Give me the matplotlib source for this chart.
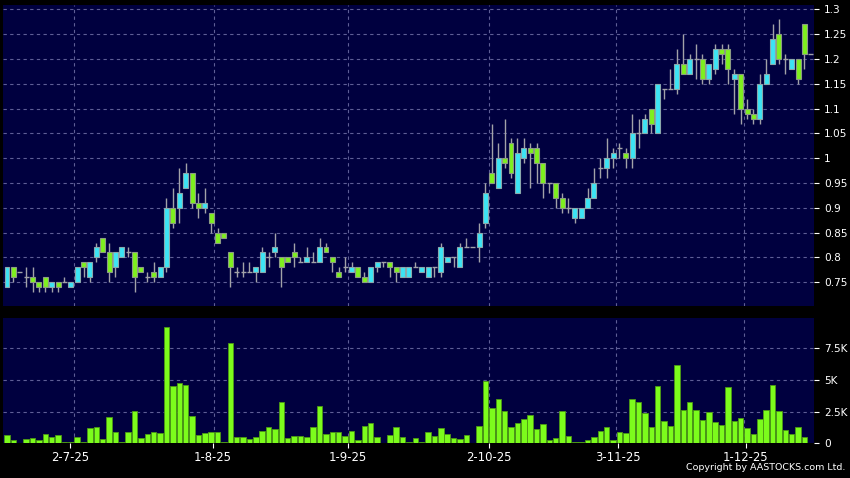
import numpy as np
import matplotlib
matplotlib.use("Agg")
import matplotlib.pyplot as plt

# daily OHLC (oldest first)
opens = [0.74, 0.78, 0.77, 0.76, 0.76, 0.75, 0.76, 0.74, 0.75, 0.75,
         0.74, 0.75, 0.79, 0.76, 0.80, 0.84, 0.81, 0.78, 0.80, 0.81,
         0.81, 0.78, 0.76, 0.77, 0.76, 0.78, 0.90, 0.90, 0.94, 0.97,
         0.91, 0.90, 0.89, 0.85, 0.85, 0.81, 0.77, 0.77, 0.77, 0.77,
         0.77, 0.80, 0.81, 0.80, 0.80, 0.81, 0.79, 0.79, 0.79, 0.79,
         0.82, 0.80, 0.77, 0.78, 0.77, 0.78, 0.76, 0.75, 0.78, 0.79,
         0.79, 0.78, 0.76, 0.76, 0.78, 0.77, 0.76, 0.78, 0.77, 0.79,
         0.80, 0.78, 0.82, 0.82, 0.82, 0.87, 0.97, 0.94, 1.00, 1.03,
         0.93, 1.00, 1.02, 1.02, 0.99, 0.95, 0.95, 0.92, 0.90, 0.88,
         0.88, 0.90, 0.92, 0.98, 0.98, 1.00, 1.02, 1.01, 1.00, 1.05,
         1.05, 1.10, 1.05, 1.14, 1.14, 1.14, 1.19, 1.17, 1.20, 1.20,
         1.16, 1.18, 1.22, 1.22, 1.16, 1.17, 1.10, 1.09, 1.08, 1.15,
         1.19, 1.25, 1.20, 1.18, 1.20, 1.27, 1.21]
highs = [0.78, 0.78, 0.77, 0.78, 0.78, 0.75, 0.76, 0.75, 0.75, 0.76,
         0.75, 0.78, 0.79, 0.79, 0.83, 0.84, 0.83, 0.81, 0.82, 0.82,
         0.81, 0.78, 0.77, 0.79, 0.78, 0.92, 0.94, 0.98, 0.99, 0.97,
         0.93, 0.94, 0.89, 0.86, 0.85, 0.81, 0.78, 0.79, 0.79, 0.78,
         0.82, 0.81, 0.85, 0.80, 0.80, 0.83, 0.80, 0.82, 0.81, 0.84,
         0.83, 0.80, 0.78, 0.80, 0.79, 0.78, 0.77, 0.78, 0.79, 0.79,
         0.79, 0.78, 0.78, 0.78, 0.79, 0.78, 0.78, 0.78, 0.83, 0.80,
         0.80, 0.83, 0.84, 0.82, 0.87, 0.95, 1.07, 1.03, 1.08, 1.04,
         1.04, 1.04, 1.03, 1.03, 0.99, 0.95, 0.95, 0.93, 0.92, 0.90,
         0.90, 0.94, 0.98, 1.00, 1.04, 1.02, 1.03, 1.02, 1.09, 1.08,
         1.09, 1.10, 1.15, 1.14, 1.18, 1.22, 1.25, 1.21, 1.23, 1.21,
         1.19, 1.23, 1.23, 1.23, 1.18, 1.17, 1.12, 1.10, 1.17, 1.20,
         1.27, 1.28, 1.21, 1.20, 1.20, 1.27, 1.21]
lows = [0.74, 0.75, 0.77, 0.74, 0.73, 0.73, 0.73, 0.73, 0.73, 0.75,
        0.74, 0.75, 0.76, 0.75, 0.79, 0.81, 0.75, 0.76, 0.80, 0.80,
        0.73, 0.77, 0.75, 0.75, 0.76, 0.77, 0.86, 0.87, 0.94, 0.90,
        0.88, 0.89, 0.85, 0.83, 0.84, 0.74, 0.76, 0.76, 0.77, 0.75,
        0.77, 0.78, 0.80, 0.74, 0.79, 0.78, 0.79, 0.79, 0.79, 0.79,
        0.81, 0.77, 0.76, 0.77, 0.77, 0.76, 0.75, 0.75, 0.77, 0.78,
        0.76, 0.75, 0.76, 0.76, 0.78, 0.77, 0.76, 0.76, 0.76, 0.79,
        0.78, 0.78, 0.82, 0.82, 0.79, 0.86, 0.95, 0.94, 0.98, 0.96,
        0.93, 0.99, 0.94, 0.95, 0.92, 0.93, 0.90, 0.89, 0.89, 0.87,
        0.88, 0.90, 0.92, 0.96, 0.96, 0.98, 1.00, 0.98, 0.98, 1.02,
        1.05, 1.05, 1.05, 1.12, 1.14, 1.13, 1.17, 1.17, 1.16, 1.15,
        1.15, 1.17, 1.19, 1.15, 1.09, 1.07, 1.08, 1.07, 1.07, 1.15,
        1.19, 1.19, 1.17, 1.18, 1.15, 1.18, 1.21]
closes = [0.78, 0.76, 0.77, 0.76, 0.75, 0.74, 0.74, 0.75, 0.74, 0.75,
          0.75, 0.78, 0.78, 0.79, 0.82, 0.81, 0.77, 0.81, 0.82, 0.81,
          0.76, 0.77, 0.76, 0.76, 0.78, 0.90, 0.87, 0.93, 0.97, 0.91,
          0.90, 0.91, 0.87, 0.83, 0.84, 0.78, 0.77, 0.77, 0.77, 0.78,
          0.81, 0.80, 0.82, 0.78, 0.79, 0.80, 0.79, 0.80, 0.79, 0.82,
          0.81, 0.79, 0.76, 0.78, 0.78, 0.76, 0.75, 0.78, 0.79, 0.79,
          0.78, 0.77, 0.78, 0.78, 0.78, 0.78, 0.78, 0.78, 0.82, 0.80,
          0.80, 0.82, 0.82, 0.82, 0.85, 0.93, 0.95, 1.00, 0.99, 0.97,
          1.01, 1.02, 1.01, 0.99, 0.95, 0.95, 0.92, 0.90, 0.90, 0.90,
          0.90, 0.92, 0.95, 0.98, 1.00, 1.01, 1.02, 1.00, 1.05, 1.05,
          1.08, 1.07, 1.15, 1.14, 1.14, 1.19, 1.17, 1.20, 1.20, 1.16,
          1.19, 1.22, 1.21, 1.18, 1.17, 1.10, 1.09, 1.08, 1.15, 1.17,
          1.24, 1.20, 1.20, 1.20, 1.16, 1.21, 1.21]
# volume in thousands
volumes = [0.65, 0.26, 0.02, 0.34, 0.42, 0.26, 0.73, 0.52, 0.62, 0.13,
           0.10, 0.49, 0.08, 1.19, 1.25, 0.34, 2.10, 0.91, 0.13, 0.93,
           2.57, 0.39, 0.73, 0.86, 0.83, 9.22, 4.49, 4.75, 4.60, 2.13,
           0.62, 0.80, 0.93, 0.88, 0.10, 7.94, 0.49, 0.47, 0.34, 0.52,
           0.99, 1.32, 1.14, 3.30, 0.44, 0.60, 0.57, 0.49, 1.27, 2.96,
           0.75, 0.88, 0.86, 0.60, 0.99, 0.26, 1.40, 1.64, 0.52, 0.05,
           0.65, 1.25, 0.52, 0.08, 0.39, 0.10, 0.86, 0.57, 1.17, 0.73,
           0.39, 0.31, 0.62, 0.00, 1.40, 4.93, 2.80, 3.50, 2.54, 1.25,
           1.58, 1.92, 2.26, 1.12, 1.53, 0.26, 0.44, 2.54, 0.55, 0.08,
           0.10, 0.26, 0.49, 1.01, 1.32, 0.23, 0.86, 0.78, 3.50, 3.27,
           2.36, 1.30, 4.49, 1.79, 1.38, 6.15, 2.65, 3.27, 2.60, 1.87,
           2.49, 1.69, 1.43, 4.44, 1.74, 2.02, 1.22, 0.73, 1.95, 2.62,
           4.62, 2.52, 1.06, 0.73, 1.30, 0.49, 0.00]

date_labels = ["2-7-25", "1-8-25", "1-9-25", "2-10-25", "3-11-25", "1-12-25"]
label_pos = [9.9, 32.3, 53.4, 75.5, 95.7, 115.8]
grid_pos = [10.5, 32.5, 53.5, 75.5, 95.5, 115.5]
price_ticks = [0.75, 0.8, 0.85, 0.9, 0.95, 1.0, 1.05, 1.1, 1.15, 1.2, 1.25, 1.3]
price_labels = ["0.75", "0.8", "0.85", "0.9", "0.95", "1", "1.05", "1.1",
                "1.15", "1.2", "1.25", "1.3"]
vol_ticks = [0, 2500, 5000, 7500]
vol_labels = ["0", "2.5K", "5K", "7.5K"]

BG = "#00003f"
UP = "#3ce4f4"
DOWN = "#7ef01e"
WICK = "#a2a2a8"
GRID = "#5e5e96"

o = np.array(opens)
h = np.array(highs)
l = np.array(lows)
c = np.array(closes)
v = np.array(volumes) * 1000
x = np.arange(len(o))

fig = plt.figure(figsize=(8.5, 4.78), dpi=100, facecolor="black")
ax1 = fig.add_axes([3.3 / 850, 1 - 306 / 478, 811 / 850, 301 / 478])
ax2 = fig.add_axes([3.3 / 850, 1 - 443.3 / 478, 811 / 850, 125 / 478])

for ax in (ax1, ax2):
    ax.set_facecolor(BG)
    for s in ax.spines.values():
        s.set_visible(False)
    ax.set_xlim(-0.58, 126.54)
    ax.yaxis.tick_right()
    ax.tick_params(axis="y", colors="white", labelsize=7.6, length=3.5,
                   width=0.8, pad=3.5)
    ax.set_axisbelow(True)
    for p in grid_pos:
        ax.axvline(p, color=GRID, lw=0.8, ls=(0, (3, 3)), zorder=0)

# price panel
ax1.set_ylim(0.702, 1.309)
ax1.set_yticks(price_ticks)
ax1.set_yticklabels(price_labels)
ax1.set_xticks([])
for t in price_ticks:
    ax1.axhline(t, color=GRID, lw=0.8, ls=(0, (3, 3)), zorder=0)

w = 0.78
ax1.vlines(x, l, h, color=WICK, lw=1, zorder=2)
up = c > o
dn = c < o
flat = c == o
ax1.bar(x[up], (c - o)[up], bottom=o[up], width=w, color=UP,
        edgecolor="#8aa8ac", linewidth=0.8, zorder=3)
ax1.bar(x[dn], (o - c)[dn], bottom=c[dn], width=w, color=DOWN,
        edgecolor="#8c9c84", linewidth=0.8, zorder=3)
ax1.hlines(c[flat], x[flat] - w / 2, x[flat] + w / 2, color=WICK, lw=1, zorder=3)

# volume panel
ax2.set_ylim(0, 9870)
ax2.set_yticks(vol_ticks)
ax2.set_yticklabels(vol_labels)
for t in vol_ticks[1:]:
    ax2.axhline(t, color=GRID, lw=0.8, ls=(0, (3, 3)), zorder=0)
ax2.bar(x, v, width=0.86, color="#7cfc1c", edgecolor="#4d9a14",
        linewidth=0.6, zorder=3)
ax2.set_xticks(label_pos)
ax2.set_xticklabels(date_labels)
ax2.tick_params(axis="x", colors="white", labelsize=8.4, length=3.5,
                width=0.8, pad=2)

fig.text(0.994, 0.012, "Copyright by AASTOCKS.com Ltd.", color="white",
         fontsize=6.8, ha="right", va="bottom")

fig.savefig("out.png", dpi=100, facecolor="black")
